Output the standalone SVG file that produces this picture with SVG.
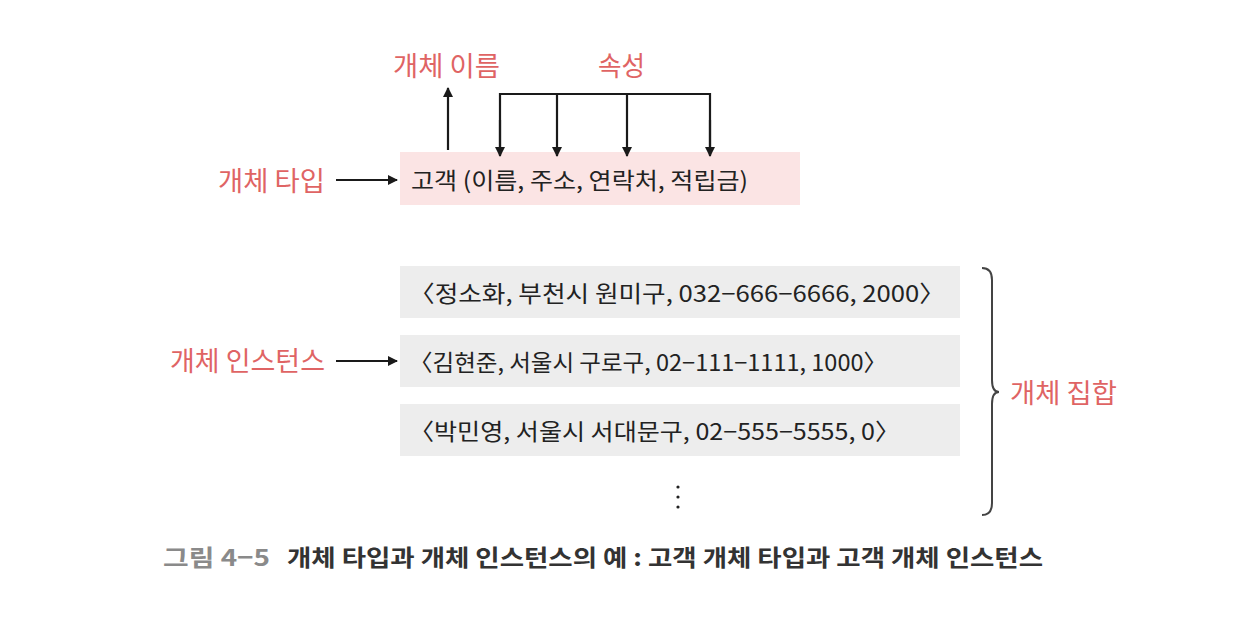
<svg xmlns="http://www.w3.org/2000/svg" width="1240" height="627" viewBox="0 0 1240 627">
<defs>
<marker id="ah" viewBox="0 0 10 10" refX="9" refY="5" markerWidth="10" markerHeight="10" markerUnits="userSpaceOnUse" orient="auto">
<path d="M0,0 L10,5 L0,10 z" fill="#1a1a1a"/>
</marker>
<style>
.red{font-family:"Noto Sans CJK KR","Noto Sans",sans-serif;font-size:27px;fill:#df6464}
.txt{font-family:"Noto Sans CJK KR","Noto Sans",sans-serif;font-size:23px;fill:#222}
.cap{font-family:"Noto Sans CJK KR","Noto Sans",sans-serif;font-size:23px;font-weight:bold;fill:#333}
.ln{stroke:#1a1a1a;stroke-width:2.2;fill:none}
</style>
</defs>
<rect width="1240" height="627" fill="#fff"/>
<g id="type-box">
<rect x="400" y="152" width="400" height="53" fill="#fbe4e4"/>
<text class="txt" x="411" y="189" textLength="337" lengthAdjust="spacingAndGlyphs">고객 (이름, 주소, 연락처, 적립금)</text>
</g>
<g id="label-name"><text class="red" x="393" y="76" textLength="107" lengthAdjust="spacingAndGlyphs">개체 이름</text></g>
<g id="label-attr"><text class="red" x="598" y="76" textLength="47" lengthAdjust="spacingAndGlyphs">속성</text></g>
<g id="label-type"><text class="red" x="218" y="191" textLength="107" lengthAdjust="spacingAndGlyphs">개체 타입</text></g>
<g id="label-inst"><text class="red" x="170" y="371" textLength="155" lengthAdjust="spacingAndGlyphs">개체 인스턴스</text></g>
<g id="label-set"><text class="red" x="1010" y="403" textLength="107" lengthAdjust="spacingAndGlyphs">개체 집합</text></g>
<g id="inst1">
<rect x="400" y="266" width="560" height="52" fill="#ededed"/>
<text class="txt" x="409" y="302" textLength="536" lengthAdjust="spacingAndGlyphs">〈정소화, 부천시 원미구, 032−666−6666, 2000〉</text>
</g>
<g id="inst2">
<rect x="400" y="335" width="560" height="52" fill="#ededed"/>
<text class="txt" x="409" y="371" textLength="478" lengthAdjust="spacingAndGlyphs">〈김현준, 서울시 구로구, 02−111−1111, 1000〉</text>
</g>
<g id="inst3">
<rect x="400" y="404" width="560" height="52" fill="#ededed"/>
<text class="txt" x="409" y="440" textLength="491" lengthAdjust="spacingAndGlyphs">〈박민영, 서울시 서대문구, 02−555−5555, 0〉</text>
</g>
<g id="dots" fill="#222">
<circle cx="678" cy="487" r="1.6"/><circle cx="678" cy="497" r="1.6"/><circle cx="678" cy="507" r="1.6"/>
</g>
<g id="connectors">
<line class="ln" x1="448" y1="150" x2="448" y2="88" marker-end="url(#ah)"/>
<path class="ln" d="M500,155 V94 H710 V155"/>
<line class="ln" x1="500" y1="120" x2="500" y2="156" marker-end="url(#ah)"/>
<line class="ln" x1="557" y1="94" x2="557" y2="156" marker-end="url(#ah)"/>
<line class="ln" x1="627" y1="94" x2="627" y2="156" marker-end="url(#ah)"/>
<line class="ln" x1="710" y1="120" x2="710" y2="156" marker-end="url(#ah)"/>
<line class="ln" x1="336" y1="180" x2="397" y2="180" marker-end="url(#ah)"/>
<line class="ln" x1="336" y1="361" x2="397" y2="361" marker-end="url(#ah)"/>
<path d="M982,268 Q992,268 992,280 V380 Q992,392 999,392 Q992,392 992,404 V503 Q992,515 982,515" fill="none" stroke="#444" stroke-width="2"/>
</g>
<g id="caption">
<text class="cap" x="163" y="566"><tspan fill="#8a8a8a" textLength="107" lengthAdjust="spacingAndGlyphs">그림 4−5</tspan><tspan x="287" textLength="756" lengthAdjust="spacingAndGlyphs">개체 타입과 개체 인스턴스의 예 : 고객 개체 타입과 고객 개체 인스턴스</tspan></text>
</g>
</svg>
